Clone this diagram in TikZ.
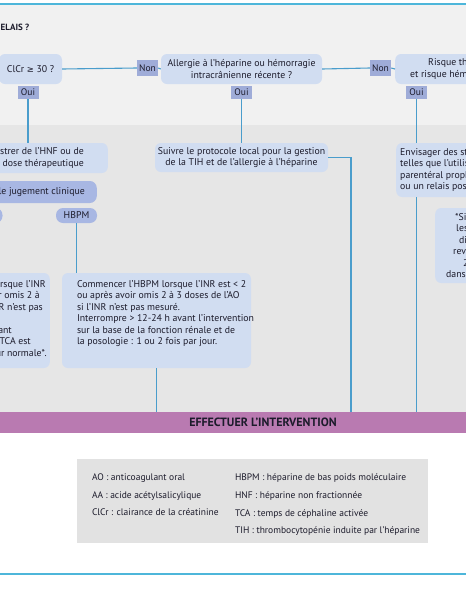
\documentclass[tikz,border=0pt]{standalone}
\usepackage{fontspec}
\setmainfont{PT Sans}
\newfontfamily\symfont{DejaVu Sans}
\usetikzlibrary{positioning}
\definecolor{boxblue}{HTML}{D1DDF1}
\definecolor{tagblue}{HTML}{9FACD8}
\definecolor{pillblue}{HTML}{A8B7E3}
\definecolor{linkblue}{HTML}{4A9DCC}
\definecolor{framecyan}{HTML}{4DB6DA}
\definecolor{bandpurple}{HTML}{B97AB1}
\definecolor{toptint}{HTML}{F1F1F1}
\definecolor{midtint}{HTML}{E6E6E6}
\definecolor{legendgray}{HTML}{E2E2E2}
\definecolor{inkdark}{HTML}{1C1B2B}
\newcommand{\tailgap}[1]{\rule{#1}{0pt}}
\tikzset{
  infobox/.style={fill=boxblue,rounded corners=6pt,inner sep=0pt,align=center},
  tagbox/.style={fill=tagblue,inner sep=0pt,minimum width=21pt,font=\fontsize{9.5}{11}\selectfont},
  pillbox/.style={fill=pillblue,rounded corners=7pt,inner sep=0pt},
  link/.style={draw=linkblue,line width=1.1pt},
  boxtext/.style={anchor=north west,align=left,inner sep=0pt}
}
\begin{document}
\begin{tikzpicture}[x=1pt,y=-1pt,every node/.style={text=inkdark,font=\fontsize{9.8}{11.5}\selectfont}]
  \useasboundingbox (0,0) rectangle (466,600);
  \clip (0,0) rectangle (466,600);
  % fonds
  \fill[white] (0,0) rectangle (466,600);
  \fill[toptint] (0,4) rectangle (466,125);
  \fill[midtint] (0,125) rectangle (466,412);
  \draw[framecyan,line width=1.5pt] (0,4) -- (466,4) (0,574) -- (466,574);
  \node[anchor=west,inner sep=0pt,font=\fontsize{9}{11}\selectfont\bfseries] (title) at (0.5,27) {ELAIS ?};
  % questions
  \node[infobox,minimum width=63pt,minimum height=30pt] (q1) at (30.5,69) {ClCr {\symfont\fontsize{8.5}{9}\selectfont ≥} 30 ?};
  \node[infobox,minimum width=161pt,minimum height=30pt] (q2) at (241.5,69) {Allergie à l'héparine ou hémorragie\\intracrânienne récente ?};
  \node[infobox,anchor=west,minimum height=30pt,align=left,inner xsep=15pt] (q3) at (395,69) {\hspace*{18pt}Risque thrombotique élevé\\et risque hémorragique faible ?};
  \node[tagbox,minimum height=16pt] (n1) at (147.5,68) {Non};
  \node[tagbox,minimum height=16pt] (n2) at (380.5,68) {Non};
  \node[tagbox,minimum height=13pt] (o1) at (28,92.5) {Oui};
  \node[tagbox,minimum height=13pt] (o2) at (241.5,92.5) {Oui};
  \node[tagbox,minimum height=13pt] (o3) at (416.5,92.5) {Oui};
  % conduites
  \node[infobox,anchor=east,minimum height=30pt,align=right,inner xsep=24pt] (a1) at (108,158) {Administrer de l'HNF ou de\\l'HBPM à dose thérapeutique};
  \node[infobox,minimum width=173pt,minimum height=29pt] (s1) at (241.5,157.5) {Suivre le protocole local pour la gestion\\de la TIH et de l'allergie à l'héparine};
  \node[infobox,anchor=west,minimum height=54pt,align=left,inner xsep=4pt] (e1) at (396,170) {Envisager des stratégies de relais\\telles que l'utilisation d'un anticoagulant\\parentéral prophylactique\\ou un relais posologique};
  \node[infobox,anchor=west,minimum height=75pt,align=left,inner xsep=11pt] (f1) at (435,245.5) {\hspace*{9pt}*Si le TCA est\\\hspace*{10pt}les valeurs de\\\hspace*{13pt}difficiles à\\\hspace*{7pt}revenir sous la\\\hspace*{17pt}2 h avant\\dans la normale.};
  \node[pillbox,anchor=east,minimum height=22pt,inner xsep=12pt] (j1) at (97,192) {Selon le jugement clinique};
  \node[pillbox,minimum width=41pt,minimum height=15pt] (h0) at (-18,215.5) {HNF};
  \node[pillbox,minimum width=41pt,minimum height=15pt] (h1) at (76.5,215.5) {HBPM};
  \node[infobox,anchor=east,minimum width=180pt,minimum height=95pt] (c0) at (50,320.5) {};
  \node[boxtext,anchor=north east,align=right] (c0txt) at ([xshift=-2pt,yshift=-7.5pt]c0.north east) {Commencer l'HNF lorsque l'INR\tailgap{2pt}\\est < 2 ou après avoir omis 2 à\tailgap{8pt}\\3 doses de l'AO si l'INR n'est pas\tailgap{5pt}\\mesuré.\tailgap{60pt}\\Interrompre 4-6 h avant\tailgap{36pt}\\l'intervention lorsque le TCA est\tailgap{17pt}\\revenu à une valeur normale*.\tailgap{1pt}};
  \node[infobox,minimum width=189pt,minimum height=95pt] (c1) at (156.5,320.5) {};
  \node[boxtext] (c1txt) at ([xshift=15pt,yshift=-7.5pt]c1.north west) {Commencer l'HBPM lorsque l'INR est < 2\\ou après avoir omis 2 à 3 doses de l'AO\\si l'INR n'est pas mesuré.\\Interrompre > 12-24 h avant l'intervention\\sur la base de la fonction rénale et de\\la posologie : 1 ou 2 fois par jour.};
  \node[fill=bandpurple,minimum width=600pt,minimum height=21pt,inner sep=0pt,font=\fontsize{12}{14}\selectfont\bfseries] (band) at (263,422.5) {EFFECTUER L'INTERVENTION};
  % liaisons
  \coordinate (sbend) at (351,157.5);
  \draw[link] (q1.east) -- (n1.west) (n1.east) -- (q2.west);
  \draw[link] (q2.east) -- (n2.west) (n2.east) -- (q3.west);
  \draw[link] (o1.south) -- (o1.south |- a1.north);
  \draw[link] (o2.south) -- (s1.north);
  \draw[link] (o3.south) -- (o3.south |- e1.north);
  \draw[link] (o3 |- e1.south) -- (o3 |- band.north);
  \draw[link] (s1.east) -- (sbend) -- (sbend |- band.north);
  \draw[link] (h1.south) -- (h1.south |- c1.north);
  \draw[link] (c1.south) -- (c1.south |- band.north);
  % abréviations
  \node[fill=legendgray,minimum width=351pt,minimum height=84pt,inner sep=0pt] (legend) at (252.5,501) {};
  \node[boxtext,font=\fontsize{9.5}{17.6}\selectfont] (abbrA) at ([xshift=15pt,yshift=-15pt]legend.north west) {AO : anticoagulant oral\\AA : acide acétylsalicylique\\ClCr : clairance de la créatinine};
  \node[boxtext,font=\fontsize{9.5}{17.6}\selectfont] (abbrB) at ([xshift=158pt,yshift=-15pt]legend.north west) {HBPM : héparine de bas poids moléculaire\\HNF : héparine non fractionnée\\TCA : temps de céphaline activée\\TIH : thrombocytopénie induite par l'héparine};
\end{tikzpicture}
\end{document}
